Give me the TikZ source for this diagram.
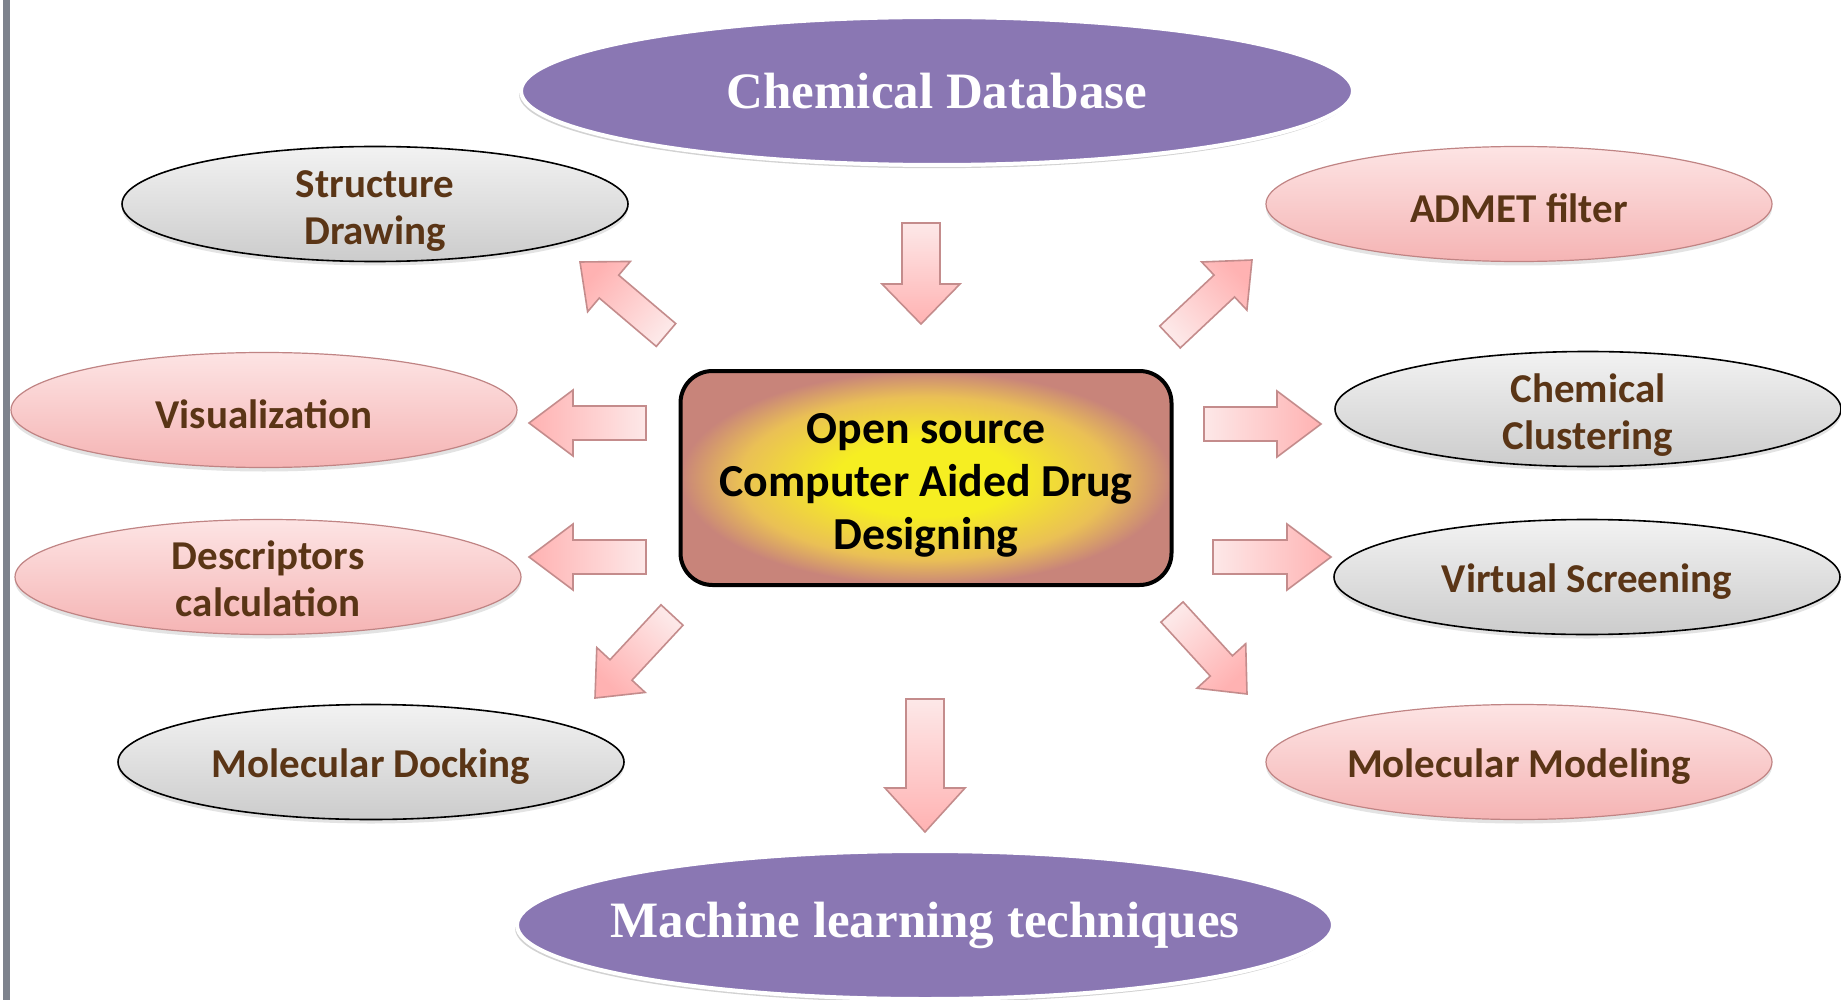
\documentclass[tikz,border=0pt]{standalone}
\usepackage{fontspec}
\setmainfont{Carlito}
\newfontfamily\titlefont{Liberation Serif}
\usetikzlibrary{shapes.geometric,shadows,calc}

\definecolor{titlepurple}{HTML}{8A77B3}
\definecolor{labelbrown}{HTML}{5A3516}
\definecolor{pinktop}{HTML}{FDE4E4}
\definecolor{pinkbot}{HTML}{F5B4B4}
\definecolor{pinkline}{HTML}{C08484}
\definecolor{graytop}{HTML}{F2F2F2}
\definecolor{graybot}{HTML}{CCCCCC}
\definecolor{coreyellow}{HTML}{F6EE22}
\definecolor{coremid}{HTML}{EAC055}
\definecolor{corerose}{HTML}{C8847A}
\definecolor{arrowtail}{HTML}{FDE8E8}
\definecolor{arrowhead}{HTML}{FFB2B2}
\definecolor{arrowline}{HTML}{C48C8C}
\definecolor{sidebar}{HTML}{7E838D}

% warm glow for the central box
\pgfdeclareradialshading{coreglow}{\pgfpoint{0bp}{0bp}}{%
  color(0bp)=(coreyellow); color(9bp)=(coreyellow);
  color(19bp)=(coremid); color(25bp)=(corerose); color(50bp)=(corerose)}

% invisible strut that sets the height of a label's first line
\newcommand\labelstrut[1]{\rule{0pt}{#1}}

\tikzset{
  smallell/.style={ellipse, minimum width=253pt, minimum height=57.5pt,
    inner sep=0pt, align=center, text=labelbrown,
    font=\bfseries\fontsize{20.5}{23.5}\selectfont,
    drop shadow={shadow xshift=0pt, shadow yshift=-2pt, opacity=0.22}},
  twoline/.style={inner ysep=-8pt},
  pinkell/.style={smallell, draw=pinkline, line width=0.6pt,
    top color=pinktop, bottom color=pinkbot},
  grayell/.style={smallell, draw=black, line width=0.8pt,
    top color=graytop, bottom color=graybot},
  titleell/.style={ellipse, inner sep=0pt, fill=titlepurple, draw=white,
    line width=2pt, text=white,
    font=\titlefont\bfseries\fontsize{25.5}{30}\selectfont,
    drop shadow={shadow xshift=-1pt, shadow yshift=-1.6pt, opacity=0.35}},
  corebox/.style={rectangle, rounded corners=16pt, draw=black,
    line width=2pt, shade, shading=coreglow,
    minimum width=245.5pt, minimum height=107pt, align=center,
    font=\bfseries\fontsize{22.9}{26.5}\selectfont},
  arrowbody/.style={draw=arrowline, line width=0.8pt, line join=miter}
}

% Block arrow from a tail point to a tip point.
% #3 shaft width, #4 head width, #5 head length (all in picture units)
\newcommand\blockarrow[5]{%
  \path (#1); \pgfgetlastxy{\arax}{\aray}
  \path (#2); \pgfgetlastxy{\arbx}{\arby}
  \pgfmathsetmacro\arang{atan2(\arby-\aray,\arbx-\arax)}
  \pgfmathsetmacro\arlen{veclen(\arbx-\arax,\arby-\aray)}
  \pgfmathsetmacro\arneck{\arlen-#5*0.5}
  \pgfmathsetmacro\arshaft{#3*0.25}
  \pgfmathsetmacro\arhead{#4*0.25}
  \path[arrowbody, top color=arrowhead, bottom color=arrowtail,
        shading angle=\arang-90]
    ($(#1)+(\arang+90:\arshaft pt)$) --
    ($(#1)+(\arang:\arneck pt)+(\arang+90:\arshaft pt)$) --
    ($(#1)+(\arang:\arneck pt)+(\arang+90:\arhead pt)$) --
    (#2) --
    ($(#1)+(\arang:\arneck pt)+(\arang-90:\arhead pt)$) --
    ($(#1)+(\arang:\arneck pt)+(\arang-90:\arshaft pt)$) --
    ($(#1)+(\arang-90:\arshaft pt)$) -- cycle;
}

\begin{document}
\begin{tikzpicture}[x=0.5pt,y=-0.5pt]
  \useasboundingbox[fill=white] (0,0) rectangle (1841,1000);
  \fill[sidebar] (3,0) rectangle (10,1000);

  % central box
  \node[corebox] (core) at (926,478)
    {\labelstrut{22pt}Open source\\Computer Aided Drug\\Designing};

  % purple title ellipses
  \node[titleell, minimum width=416pt, minimum height=74pt] (db) at (937,91)
    {\makebox[0pt]{Chemical Database}};
  \node[titleell, minimum width=408pt, minimum height=74pt] (ml) at (925,925)
    {\makebox[0pt]{Machine learning techniques}};

  % tool ellipses, left column
  \node[grayell, twoline] (sd)   at (375,204) {\labelstrut{20pt}Structure\\Drawing};
  \node[pinkell] (vis)  at (264,410) {\labelstrut{19pt}Visualization};
  \node[pinkell, twoline] (desc) at (268,577) {\labelstrut{16.5pt}Descriptors\\calculation};
  \node[grayell] (dock) at (371,762) {\labelstrut{19pt}Molecular Docking};

  % tool ellipses, right column
  \node[pinkell] (admet) at (1519,204) {\labelstrut{19pt}ADMET filter};
  \node[grayell, twoline] (clus)  at (1588,409) {\labelstrut{20pt}Chemical\\Clustering};
  \node[grayell] (vs)    at (1587,577) {\labelstrut{19pt}Virtual Screening};
  \node[pinkell] (model) at (1519,762) {\labelstrut{19pt}Molecular Modeling};

  % arrow end points
  \coordinate (dbT)    at (921,223);  \coordinate (dbH)    at (921,324);
  \coordinate (mlT)    at (925,699);  \coordinate (mlH)    at (925,832);
  \coordinate (visT)   at (646,423);  \coordinate (visH)   at (529,423);
  \coordinate (descT)  at (646,557);  \coordinate (descH)  at (529,557);
  \coordinate (clusT)  at (1204,424); \coordinate (clusH)  at (1321,424);
  \coordinate (vsT)    at (1213,557); \coordinate (vsH)    at (1331,557);
  \coordinate (sdT)    at (666,335);  \coordinate (sdH)    at (580,262);
  \coordinate (admetT) at (1170,337); \coordinate (admetH) at (1252,260);
  \coordinate (dockT)  at (672,615);  \coordinate (dockH)  at (595,698);
  \coordinate (modelT) at (1172,612); \coordinate (modelH) at (1247,694);

  % arrows
  \blockarrow{dbT}{dbH}{38}{78}{40}
  \blockarrow{mlT}{mlH}{38}{80}{44}
  \blockarrow{visT}{visH}{34}{66}{44}
  \blockarrow{descT}{descH}{34}{66}{44}
  \blockarrow{clusT}{clusH}{34}{66}{44}
  \blockarrow{vsT}{vsH}{34}{66}{44}
  \blockarrow{sdT}{sdH}{30}{66}{38}
  \blockarrow{admetT}{admetH}{30}{66}{38}
  \blockarrow{dockT}{dockH}{30}{66}{38}
  \blockarrow{modelT}{modelH}{30}{66}{38}
\end{tikzpicture}
\end{document}
